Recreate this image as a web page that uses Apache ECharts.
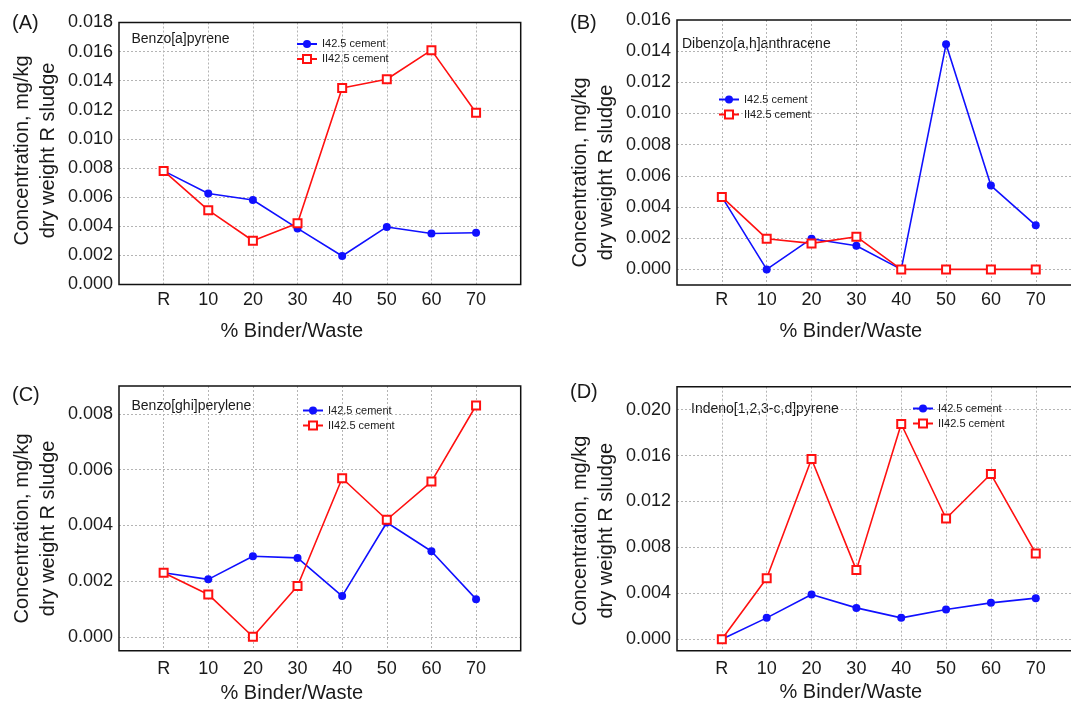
<!DOCTYPE html>
<html><head><meta charset="utf-8">
<script src="https://cdn.jsdelivr.net/npm/echarts@6/dist/echarts.min.js"></script>
<style>html,body{margin:0;padding:0;background:#fff}#c{width:1071px;height:703px}</style>
</head><body><div id="c"></div>
<script>
const categories = ['R','10','20','30','40','50','60','70'];
const seriesNames = ['I42.5 cement','II42.5 cement'];
const panelLabels = ['(A)','(B)','(C)','(D)'];
const compounds = ['Benzo[a]pyrene','Dibenzo[a,h]anthracene','Benzo[ghi]perylene','Indeno[1,2,3-c,d]pyrene'];
const xName = '% Binder/Waste';
const yName = 'Concentration, mg/kg\ndry weight R sludge';

const aI  = [0.0078, 0.00625, 0.0058, 0.00385, 0.00195, 0.00395, 0.0035, 0.00355];
const aII = [0.0078, 0.0051, 0.0030, 0.0042, 0.0135, 0.0141, 0.0161, 0.0118];
const bI  = [0.00465, 0.0, 0.00197, 0.00152, 0.0, 0.01445, 0.00538, 0.00283];
const bII = [0.00465, 0.00197, 0.00167, 0.0021, 0.0, 0.0, 0.0, 0.0];
const cI  = [0.0023, 0.00206, 0.00289, 0.00283, 0.00146, 0.0041, 0.00307, 0.00135];
const cII = [0.0023, 0.00152, 0.0, 0.00182, 0.00569, 0.0042, 0.00557, 0.0083];
const dI  = [0.0, 0.00186, 0.0039, 0.00273, 0.00186, 0.00259, 0.00317, 0.00358];
const dII = [0.0, 0.00532, 0.0157, 0.00602, 0.01875, 0.01052, 0.01439, 0.00747];

const yTicksA = [0, 0.002, 0.004, 0.006, 0.008, 0.010, 0.012, 0.014, 0.016, 0.018];
const yTicksB = [0, 0.002, 0.004, 0.006, 0.008, 0.010, 0.012, 0.014, 0.016];
const yTicksC = [0, 0.002, 0.004, 0.006, 0.008];
const yTicksD = [0, 0.004, 0.008, 0.012, 0.016, 0.020];
const xTicks = [0, 1, 2, 3, 4, 5, 6, 7];

const yRangeA = [0, 0.018];
const yRangeB = [-0.001, 0.016];
const yRangeC = [-0.0005, 0.009];
const yRangeD = [-0.001, 0.022];

const panels = [
  {I: aI, II: aII, ticks: yTicksA, range: yRangeA,
   grid: {left: 119, top: 22.5, width: 401.7, height: 261.9}, xLabelY: 300, xNameY: 331, yShift: -3,
   label: [12, 23], title: [131.5, 39.5], legend: {left: 296, top: 38.5}},
  {I: bI, II: bII, ticks: yTicksB, range: yRangeB,
   grid: {left: 677, top: 20, width: 403.6, height: 265}, xLabelY: 300, xNameY: 331, yShift: 20,
   label: [570, 23], title: [682, 44.5], legend: {left: 718, top: 94}},
  {I: cI, II: cII, ticks: yTicksC, range: yRangeC,
   grid: {left: 119, top: 386, width: 401.7, height: 264.7}, xLabelY: 669, xNameY: 693, yShift: 10,
   label: [12, 395], title: [131.5, 406.5], legend: {left: 302, top: 405}},
  {I: dI, II: dII, ticks: yTicksD, range: yRangeD,
   grid: {left: 677, top: 386.7, width: 403.6, height: 264}, xLabelY: 669, xNameY: 692, yShift: 12,
   label: [570, 392.5], title: [691, 409], legend: {left: 912, top: 403}}
];

const textColor = '#1a1a1a';
const font = 'Liberation Sans, Arial, Helvetica, sans-serif';
const gridLine = {show: true, lineStyle: {color: '#b4b4b4', type: [2, 2], width: 1}};

const option = {
  animation: false,
  backgroundColor: '#fff',
  textStyle: {fontFamily: font},
  grid: [], xAxis: [], yAxis: [], series: [], legend: [], graphic: []
};

panels.forEach((p, i) => {
  const bottomY = p.grid.top + p.grid.height;
  const s = p.yShift;
  option.grid.push(Object.assign({show: true, z: 5, borderColor: '#111', borderWidth: 1.5,
    backgroundColor: 'transparent', containLabel: false, outerBoundsMode: 'none'}, p.grid));
  option.xAxis.push({
    type: 'value', gridIndex: i, min: -1, max: 8, interval: 1,
    axisLine: {show: false},
    axisTick: {show: false, customValues: xTicks},
    axisLabel: {color: textColor, fontSize: 18, fontFamily: font, margin: p.xLabelY - bottomY - 9,
      customValues: xTicks, formatter: v => (categories[v] !== undefined ? categories[v] : '')},
    splitLine: gridLine,
    name: xName, nameLocation: 'middle', nameGap: p.xNameY - bottomY - 10,
    nameTextStyle: {color: textColor, fontSize: 20, fontFamily: font, padding: [0, 56, 0, 0]}
  });
  option.yAxis.push({
    type: 'value', gridIndex: i, min: p.range[0], max: p.range[1],
    axisLine: {show: false},
    axisTick: {show: false, customValues: p.ticks.filter(v => v > p.range[0] && v < p.range[1])},
    axisLabel: {color: textColor, fontSize: 18, fontFamily: font, margin: 6, customValues: p.ticks,
      formatter: v => v.toFixed(3)},
    splitLine: gridLine,
    name: yName, nameLocation: 'middle', nameGap: 58,
    nameTextStyle: {color: textColor, fontSize: 20, fontFamily: font, lineHeight: 26,
      padding: s >= 0 ? [0, 2 * s, 0, 0] : [0, 0, 0, -2 * s]}
  });
  option.series.push({
    name: seriesNames[0], type: 'line', xAxisIndex: i, yAxisIndex: i,
    data: p.I.map((v, k) => [k, v]),
    symbol: 'circle', symbolSize: 8,
    itemStyle: {color: '#1010ff'},
    lineStyle: {color: '#1010ff', width: 1.6}
  });
  option.series.push({
    name: seriesNames[1], type: 'line', xAxisIndex: i, yAxisIndex: i,
    data: p.II.map((v, k) => [k, v]),
    symbol: 'emptyRect', symbolSize: 8,
    itemStyle: {color: '#ff1010', borderWidth: 1.5},
    lineStyle: {color: '#ff1010', width: 1.6}
  });
  option.legend.push({
    orient: 'vertical', left: p.legend.left, top: p.legend.top, padding: 0,
    itemWidth: 20, itemHeight: 10, itemGap: 4,
    textStyle: {color: textColor, fontSize: 11, fontFamily: font},
    data: seriesNames
  });
  option.graphic.push({
    type: 'text', x: p.label[0], y: p.label[1],
    style: {text: panelLabels[i], font: '20px ' + font, fill: textColor, verticalAlign: 'middle'}
  });
  option.graphic.push({
    type: 'text', x: p.title[0], y: p.title[1],
    style: {text: compounds[i], font: '14px ' + font, fill: textColor, verticalAlign: 'middle'}
  });
});

const chart = echarts.init(document.getElementById('c'), null, {renderer: 'canvas'});
chart.setOption(option);
</script>
</body></html>
